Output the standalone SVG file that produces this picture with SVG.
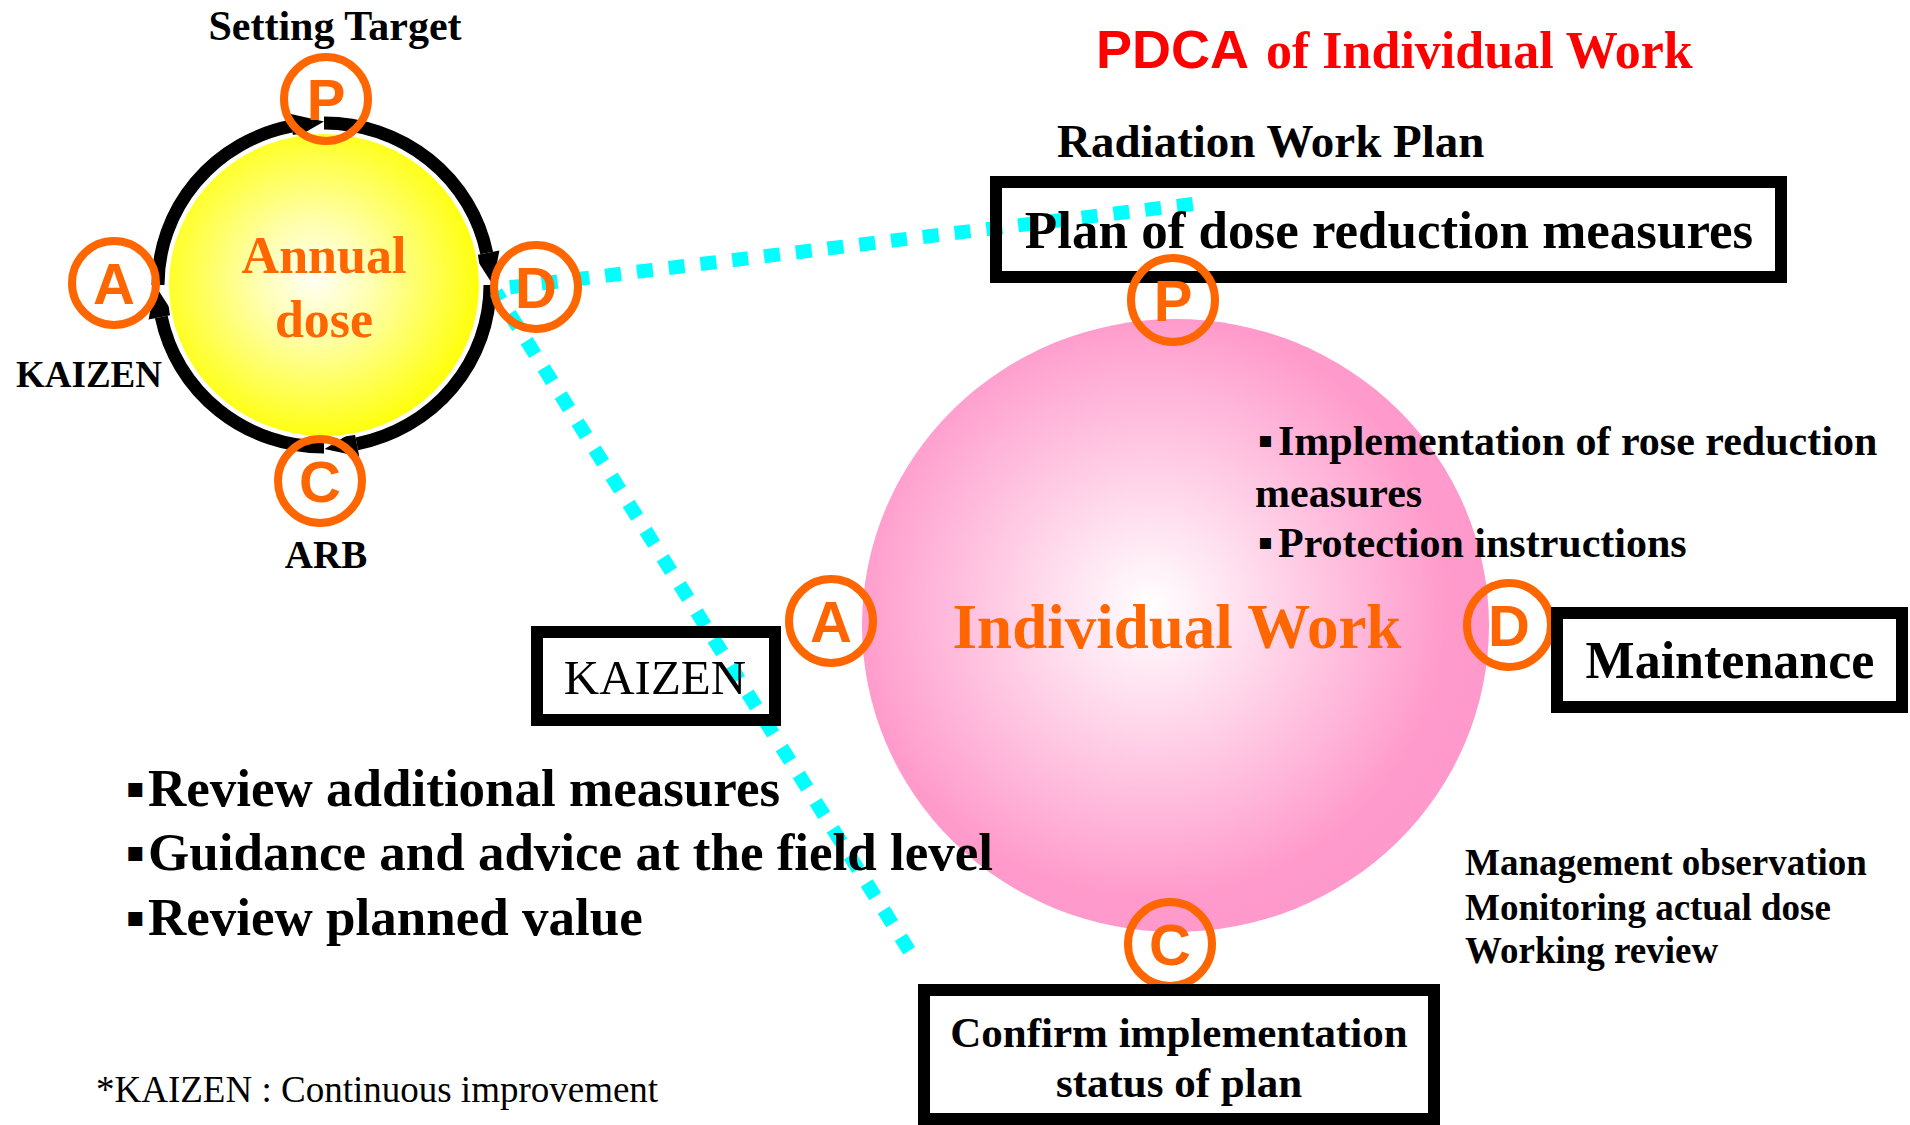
<svg xmlns="http://www.w3.org/2000/svg" width="1910" height="1125" viewBox="0 0 1910 1125">
<defs>
<radialGradient id="gy" cx="0.47" cy="0.48" r="0.52">
<stop offset="0" stop-color="#FFFFF4"/>
<stop offset="0.35" stop-color="#FFFFB0"/>
<stop offset="1" stop-color="#FFFF10"/>
</radialGradient>
<radialGradient id="gp" cx="0.46" cy="0.47" r="0.56">
<stop offset="0" stop-color="#FFFFFF"/>
<stop offset="0.85" stop-color="#FF9ACB"/>
<stop offset="1" stop-color="#FF99CC"/>
</radialGradient>
<style>
.t{font-family:"Liberation Serif","Times New Roman",serif;font-weight:bold;fill:#000}
.reg{font-weight:normal}
.mid{text-anchor:middle}
.or{fill:#FF6600}
.oc{fill:none;stroke:#FF6600;stroke-width:8}
.ol{font-family:"Liberation Sans",Arial,sans-serif;font-weight:bold;font-size:58px;fill:#FF6600;text-anchor:middle}
.box{fill:none;stroke:#000;stroke-width:12}
.ring{fill:none;stroke:#000;stroke-width:13}
.head{fill:#000}
.dot{fill:none;stroke:#00FFFF;stroke-width:14;stroke-dasharray:16 16}
.bul{font-family:"DejaVu Sans",sans-serif;font-weight:normal}
</style>
</defs>
<rect width="1910" height="1125" fill="#FFFFFF"/>

<g id="connectors">
<path class="ring" d="M158,285 A166,162 0 0 1 291.2,126.2"/>
<polygon class="head" points="288.7,113.5 293.7,139 324,121.5"/>
<path class="ring" d="M324,123 A166,162 0 0 1 486.7,253"/>
<polygon class="head" points="474,255.6 499.4,250.4 493,285"/>
<path class="ring" d="M490,285 A166,162 0 0 1 356.8,443.8"/>
<polygon class="head" points="359.3,456.6 354.3,431.1 324.5,449"/>
<path class="ring" d="M324,447 A166,162 0 0 1 161.3,317"/>
<polygon class="head" points="174,314.4 148.6,319.6 155,285"/>
<path class="dot" d="M496,289 L1193,204" stroke-dashoffset="-14"/>
<path class="dot" d="M496,292 L910,952" stroke-dashoffset="-25.6"/>
</g>

<g id="annual-dose">
<ellipse cx="324" cy="285" rx="156" ry="152" fill="url(#gy)" stroke="#FFFFFF" stroke-width="2"/>
<text class="t or mid" x="324" y="273" font-size="52">Annual</text>
<text class="t or mid" x="324" y="337" font-size="52">dose</text>
</g>

<g id="left-p">
<circle class="oc" cx="326" cy="99" r="42"/>
<text class="ol" x="326" y="120">P</text>
<text class="t mid" x="335" y="40" font-size="42">Setting Target</text>
</g>
<g id="left-d">
<circle class="oc" cx="536" cy="287" r="42"/>
<text class="ol" x="536" y="308">D</text>
</g>
<g id="left-c">
<circle class="oc" cx="320" cy="481" r="42"/>
<text class="ol" x="320" y="502">C</text>
<text class="t mid" x="326" y="568" font-size="39">ARB</text>
</g>
<g id="left-a">
<circle class="oc" cx="114" cy="283" r="42"/>
<text class="ol" x="114" y="304">A</text>
<text class="t mid" x="89" y="387" font-size="37">KAIZEN</text>
</g>

<g id="title">
<text x="1096" y="68" font-size="52" fill="#FF0000" font-weight="bold"><tspan font-family="Liberation Sans, Arial, sans-serif" font-size="54">PDCA</tspan><tspan x="1266" font-family="Liberation Serif, Times New Roman, serif">of Individual Work</tspan></text>
</g>

<g id="individual-work">
<ellipse cx="1175.5" cy="625.5" rx="313.5" ry="306.5" fill="url(#gp)"/>
<text class="t or mid" x="1177" y="648" font-size="63">Individual Work</text>
</g>

<g id="plan-box">
<text class="t" x="1057" y="157" font-size="47">Radiation Work Plan</text>
<rect class="box" x="996" y="182" width="785" height="95"/>
<text class="t mid" x="1389" y="248" font-size="53">Plan of dose reduction measures</text>
</g>
<g id="right-p">
<circle class="oc" cx="1173" cy="300" r="42"/>
<text class="ol" x="1173" y="321">P</text>
</g>

<g id="do-notes">
<text class="t" x="1258" y="455" font-size="42"><tspan class="bul" font-size="22" y="447">▪</tspan><tspan x="1278" y="455">Implementation of rose reduction</tspan></text>
<text class="t" x="1255" y="507" font-size="42">measures</text>
<text class="t" x="1258" y="557" font-size="42"><tspan class="bul" font-size="22" y="549">▪</tspan><tspan x="1278" y="557">Protection instructions</tspan></text>
</g>

<g id="right-d">
<circle class="oc" cx="1509" cy="625" r="42"/>
<text class="ol" x="1509" y="646">D</text>
</g>
<g id="maintenance-box">
<rect class="box" x="1557" y="613" width="345" height="94"/>
<text class="t mid" x="1730" y="678" font-size="52">Maintenance</text>
</g>

<g id="right-a">
<circle class="oc" cx="831" cy="621" r="42"/>
<text class="ol" x="831" y="642">A</text>
</g>
<g id="kaizen-box">
<rect class="box" x="537" y="632" width="238" height="88"/>
<text class="t reg mid" x="655" y="694" font-size="49">KAIZEN</text>
</g>

<g id="act-notes">
<text class="t" x="126" y="806" font-size="53"><tspan class="bul" font-size="28" y="797">▪</tspan><tspan x="148" y="806">Review additional measures</tspan></text>
<text class="t" x="126" y="870" font-size="53"><tspan class="bul" font-size="28" y="861">▪</tspan><tspan x="148" y="870">Guidance and advice at the field level</tspan></text>
<text class="t" x="126" y="935" font-size="53"><tspan class="bul" font-size="28" y="926">▪</tspan><tspan x="148" y="935">Review planned value</tspan></text>
</g>

<g id="right-c">
<circle class="oc" cx="1170" cy="944" r="42"/>
<text class="ol" x="1170" y="965">C</text>
</g>
<g id="check-notes">
<text class="t" x="1465" y="875" font-size="37">Management observation</text>
<text class="t" x="1465" y="920" font-size="37">Monitoring actual dose</text>
<text class="t" x="1465" y="963" font-size="37">Working review</text>
</g>
<g id="confirm-box">
<rect class="box" x="924" y="990" width="510" height="129"/>
<text class="t mid" x="1179" y="1047" font-size="43">Confirm implementation</text>
<text class="t mid" x="1179" y="1097" font-size="43">status of plan</text>
</g>

<g id="footnote">
<text class="t reg" x="96" y="1102" font-size="37">*KAIZEN : Continuous improvement</text>
</g>
</svg>
